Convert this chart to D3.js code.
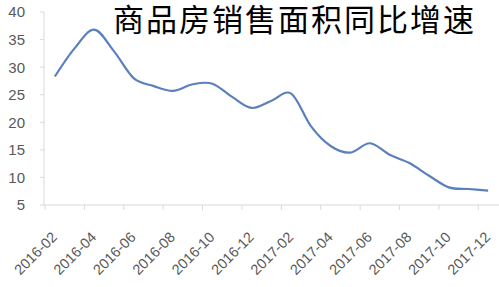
<!DOCTYPE html>
<html>
<head>
<meta charset="utf-8">
<script src="https://d3js.org/d3.v7.min.js"></script>
<style>
  body { margin: 0; background: #fff; }
  svg { display: block; }
</style>
</head>
<body>
<div class="chart"></div>
<script>
// 商品房销售面积累计同比增速 (%)
var months = ["2016-02","2016-03","2016-04","2016-05","2016-06","2016-07","2016-08","2016-09","2016-10","2016-11","2016-12",
  "2017-01","2017-02","2017-03","2017-04","2017-05","2017-06","2017-07","2017-08","2017-09","2017-10","2017-11","2017-12"];
var growth = [28.3, 33.4, 36.8, 32.9, 28.0, 26.6, 25.7, 26.9, 27.0, 24.6, 22.6,
  23.9, 25.2, 19.3, 15.7, 14.5, 16.2, 14.1, 12.6, 10.3, 8.2, 7.9, 7.6];
var yTicks = [5, 10, 15, 20, 25, 30, 35, 40];
var title = "商品房销售面积同比增速";

var w = 499, h = 287;
var svg = d3.select(".chart")
  .append("svg")
  .attr("width", w)
  .attr("height", h)
  .style("background", "#FFFFFF");

var x = d3.scaleBand().domain(months).range([45, 498]);
var y = d3.scaleLinear().domain([5, 40]).range([205, 12]);

var axisColor = "#d9d9d9";
var labelFont = "Arial, 'Liberation Sans', sans-serif";

// eje y
svg.append("line")
  .attr("x1", 44).attr("x2", 44)
  .attr("y1", y(40)).attr("y2", y(5))
  .attr("stroke", axisColor);
svg.selectAll(".ytick")
  .data(yTicks)
  .enter()
  .append("line")
  .attr("x1", 40).attr("x2", 44)
  .attr("y1", function(d) { return y(d); })
  .attr("y2", function(d) { return y(d); })
  .attr("stroke", axisColor);
svg.selectAll(".ylab")
  .data(yTicks)
  .enter()
  .append("text")
  .attr("x", 25)
  .attr("y", function(d) { return y(d); })
  .attr("dy", "0.36em")
  .attr("text-anchor", "end")
  .attr("fill", "#595959")
  .style("font-family", labelFont)
  .style("font-size", "15px")
  .text(function(d) { return d; });

// eje x
svg.append("line")
  .attr("x1", 44).attr("x2", w)
  .attr("y1", y(5)).attr("y2", y(5))
  .attr("stroke", axisColor);
var shown = months.filter(function(d, i) { return i % 2 == 0; });
svg.selectAll(".xtick")
  .data(shown)
  .enter()
  .append("line")
  .attr("x1", function(d) { return x(d); })
  .attr("x2", function(d) { return x(d); })
  .attr("y1", y(5)).attr("y2", y(5) + 5)
  .attr("stroke", axisColor);
svg.selectAll(".xlab")
  .data(shown)
  .enter()
  .append("text")
  .attr("transform", function(d) {
    return "translate(" + (x(d) + x.bandwidth() / 2 + 3) + "," + 238 + ") rotate(-45)";
  })
  .attr("text-anchor", "end")
  .attr("fill", "#595959")
  .style("font-family", labelFont)
  .style("font-size", "14.5px")
  .text(function(d) { return d; });

// línea suavizada
var line = d3.line()
  .x(function(d, i) { return x(months[i]) + x.bandwidth() / 2; })
  .y(function(d) { return y(d); })
  .curve(d3.curveCardinal.tension(0));
svg.append("path")
  .datum(growth)
  .attr("d", line)
  .attr("fill", "none")
  .attr("stroke", "#5b80bd")
  .attr("stroke-width", 2.2)
  .attr("stroke-linejoin", "round");

// título
svg.append("text")
  .attr("x", 113)
  .attr("y", 31)
  .attr("fill", "#000")
  .style("font-family", "'Liberation Serif', 'Noto Sans CJK SC', serif")
  .style("font-size", "31px")
  .style("letter-spacing", "2px")
  .text(title);
</script>
</body>
</html>
